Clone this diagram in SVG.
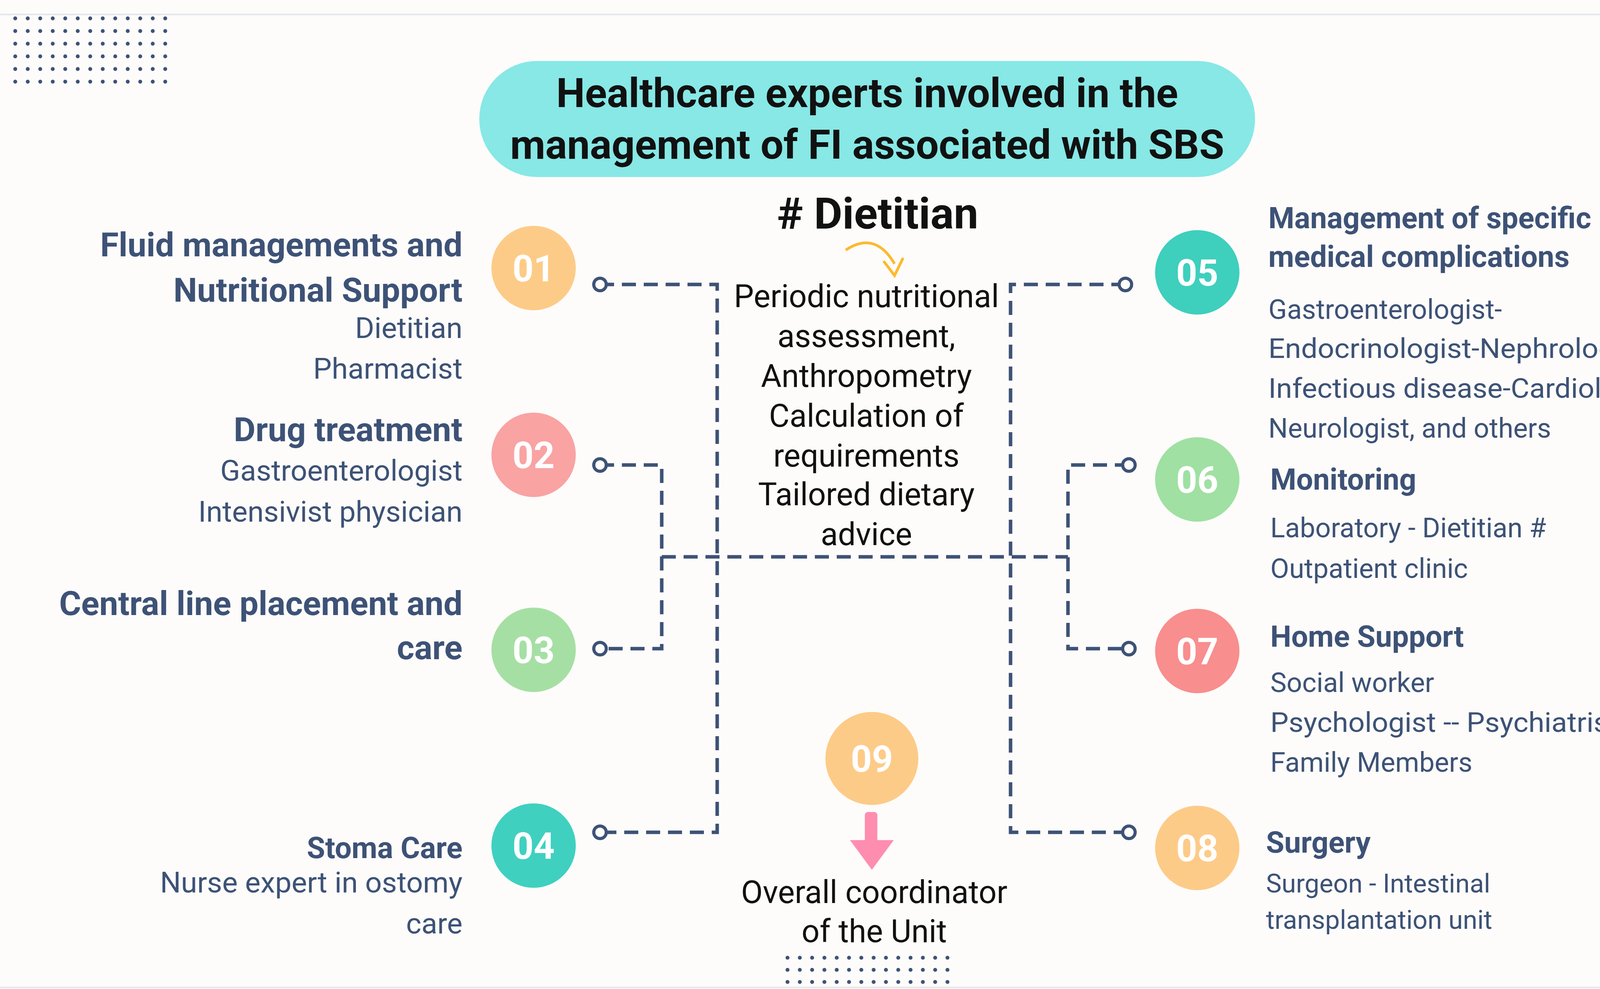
<svg xmlns="http://www.w3.org/2000/svg" width="4419" height="2531" viewBox="0 0 4419 2531">
<defs>
<pattern id="dots" x="34" y="42" width="32" height="32.4" patternUnits="userSpaceOnUse"><circle cx="5" cy="5" r="5" fill="#3D5276"/></pattern>
<pattern id="dots2" x="2011" y="2446" width="31.5" height="31" patternUnits="userSpaceOnUse"><circle cx="5" cy="5" r="5" fill="#3D5276"/></pattern>
</defs>
<style>
.bg{fill:#FDFCFA}
.c line,.c polyline{fill:none;stroke:#3D5276;stroke-width:9;stroke-dasharray:36 20}
.c circle{fill:#FDFCFA;stroke:#3D5276;stroke-width:8}
.num{font-family:Roboto,"Liberation Sans",sans-serif;font-weight:700;font-size:94px;fill:#fff;text-anchor:middle}
.h{font-family:Roboto,"Liberation Sans",sans-serif;font-weight:700;font-size:76px;fill:#3D5276}
.hl{font-size:86px}
.t{font-family:Roboto,"Liberation Sans",sans-serif;font-size:75px;fill:#3D5276}
.r{font-size:70px}
.s{font-family:Roboto,"Liberation Sans",sans-serif;font-size:67px;fill:#3D5276}
.l{text-anchor:end}
.k{font-family:Roboto,"Liberation Sans",sans-serif;font-size:81px;fill:#111;text-anchor:middle}
</style>
<rect class="bg" width="4419" height="2531"/>
<line x1="0" y1="37" x2="4419" y2="37" stroke="#E6E6EC" stroke-width="4"/>
<line x1="0" y1="2527" x2="4419" y2="2527" stroke="#E6E6EC" stroke-width="4"/>
<rect x="34" y="42" width="416" height="180" fill="url(#dots)"/>
<rect x="4258" y="42" width="130" height="180" fill="url(#dots)"/>
<rect x="2011" y="2446" width="441" height="93" fill="url(#dots2)"/>

<g id="title">
<rect x="1227" y="156" width="1986" height="297" rx="148" fill="#87E8E6"/>
<text x="2220" y="274" font-family="Roboto,'Liberation Sans',sans-serif" font-weight="700" font-size="104" text-anchor="middle" fill="#111">Healthcare experts involved in the</text>
<text x="2220" y="406" font-family="Roboto,'Liberation Sans',sans-serif" font-weight="700" font-size="104" text-anchor="middle" fill="#111">management of FI associated with SBS</text>
</g>

<g id="connectors" class="c">
<polyline points="1536,728 1836,728 1836,2130 1536,2130"/>
<polyline points="1536,1190 1694,1190 1694,1660 1536,1660"/>
<line x1="1694" y1="1425" x2="2734" y2="1425"/>
<polyline points="2881,728 2587,728 2587,2130 2890,2130"/>
<polyline points="2890,1190 2734,1190 2734,1660 2890,1660"/>
<circle cx="1536" cy="728" r="16"/><circle cx="1536" cy="1190" r="16"/><circle cx="1536" cy="1660" r="16"/><circle cx="1536" cy="2130" r="16"/>
<circle cx="2881" cy="728" r="16"/><circle cx="2890" cy="1190" r="16"/><circle cx="2890" cy="1660" r="16"/><circle cx="2890" cy="2130" r="16"/>
</g>

<g id="dietitian">
<text x="2247" y="585" font-family="Roboto,'Liberation Sans',sans-serif" font-weight="700" font-size="112" text-anchor="middle" fill="#111"># Dietitian</text>
<path d="M2165,640 Q2240,590 2290,675" fill="none" stroke="#FDB92E" stroke-width="7"/>
<path d="M2262,668 L2290,705 L2312,660" fill="none" stroke="#FDB92E" stroke-width="7"/>
<text class="k" x="2218" y="786">Periodic nutritional</text>
<text class="k" x="2218" y="888">assessment,</text>
<text class="k" x="2218" y="990">Anthropometry</text>
<text class="k" x="2218" y="1092">Calculation of</text>
<text class="k" x="2218" y="1194">requirements</text>
<text class="k" x="2218" y="1293">Tailored dietary</text>
<text class="k" x="2218" y="1395">advice</text>
</g>

<g id="n01"><circle cx="1366" cy="686" r="108" fill="#FDCB88"/><text class="num" x="1366" y="720">01</text>
<text class="h hl l" x="1184" y="656">Fluid managements and</text>
<text class="h hl l" x="1184" y="772">Nutritional Support</text>
<text class="t l" x="1184" y="865">Dietitian</text>
<text class="t l" x="1184" y="969">Pharmacist</text></g>

<g id="n02"><circle cx="1366" cy="1164" r="108" fill="#F9A3A3"/><text class="num" x="1366" y="1198">02</text>
<text class="h hl l" x="1184" y="1129">Drug treatment</text>
<text class="t l" x="1184" y="1230">Gastroenterologist</text>
<text class="t l" x="1184" y="1335">Intensivist physician</text></g>

<g id="n03"><circle cx="1366" cy="1663" r="108" fill="#A6DFA4"/><text class="num" x="1366" y="1697">03</text>
<text class="h hl l" x="1184" y="1574">Central line placement and</text>
<text class="h hl l" x="1184" y="1687">care</text></g>

<g id="n04"><circle cx="1366" cy="2164" r="108" fill="#3FD0C0"/><text class="num" x="1366" y="2198">04</text>
<text class="h l" x="1184" y="2196">Stoma Care</text>
<text class="t l" x="1184" y="2284">Nurse expert in ostomy</text>
<text class="t l" x="1184" y="2389">care</text></g>

<g id="n05"><circle cx="3065" cy="697" r="108" fill="#3ECFBD"/><text class="num" x="3065" y="731">05</text>
<text class="h" x="3247" y="584">Management of specific</text>
<text class="h" x="3247" y="683">medical complications</text>
<text class="t r" x="3247" y="816">Gastroenterologist-</text>
<text class="t r" x="3247" y="916" textLength="989" lengthAdjust="spacingAndGlyphs">Endocrinologist-Nephrologist-</text>
<text class="t r" x="3247" y="1018" textLength="1037" lengthAdjust="spacingAndGlyphs">Infectious disease-Cardiologist-</text>
<text class="t r" x="3247" y="1120">Neurologist, and others</text></g>

<g id="n06"><circle cx="3065" cy="1227" r="108" fill="#A0E0A3"/><text class="num" x="3065" y="1261">06</text>
<text class="h" x="3252" y="1253">Monitoring</text>
<text class="t r" x="3252" y="1375">Laboratory - Dietitian #</text>
<text class="t r" x="3252" y="1479">Outpatient clinic</text></g>

<g id="n07"><circle cx="3065" cy="1666" r="108" fill="#F88E8E"/><text class="num" x="3065" y="1700">07</text>
<text class="h" x="3252" y="1655">Home Support</text>
<text class="t r" x="3252" y="1771">Social worker</text>
<text class="t r" x="3252" y="1873" textLength="890" lengthAdjust="spacingAndGlyphs">Psychologist -- Psychiatrist</text>
<text class="t r" x="3252" y="1975">Family Members</text></g>

<g id="n08"><circle cx="3065" cy="2170" r="108" fill="#FDCB88"/><text class="num" x="3065" y="2204">08</text>
<text class="h" x="3241" y="2182">Surgery</text>
<text class="s" x="3241" y="2284">Surgeon - Intestinal</text>
<text class="s" x="3241" y="2377">transplantation unit</text></g>

<g id="n09"><circle cx="2232" cy="1941" r="119" fill="#FDCB88"/><text class="num" x="2232" y="1975">09</text>
<rect x="2214" y="2078" width="32" height="90" rx="8" fill="#FF8DB0"/>
<path d="M2176,2150 L2288,2150 L2232,2226 Z" fill="#FF8DB0"/>
<text class="k" x="2238" y="2311">Overall coordinator</text>
<text class="k" x="2238" y="2411">of the Unit</text></g>
</svg>
